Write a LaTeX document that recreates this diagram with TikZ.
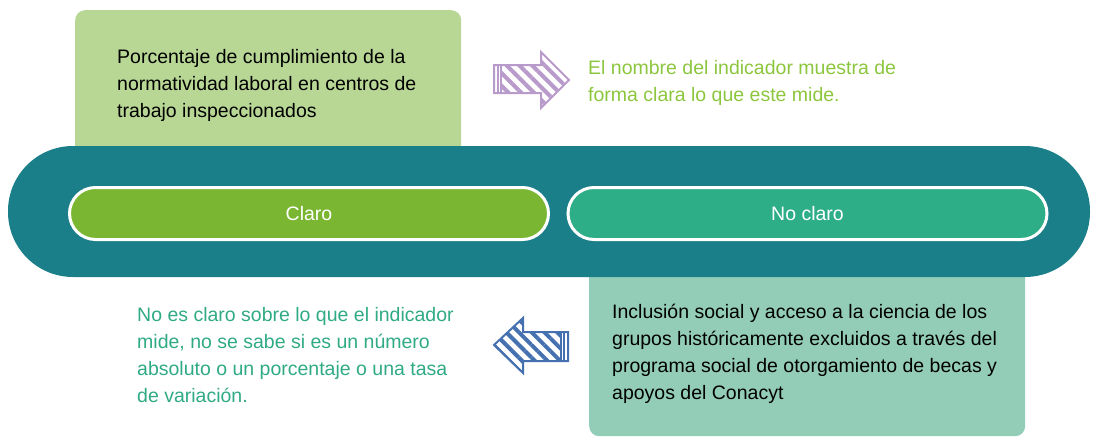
\documentclass[tikz,border=0pt]{standalone}
\usepackage{fontspec}
\setmainfont{Liberation Sans}
\usepackage{xcolor}
\usetikzlibrary{patterns.meta}
\definecolor{lightgreen}{HTML}{B8D794}
\definecolor{lightteal}{HTML}{93CDB8}
\definecolor{band}{HTML}{1B7F8A}
\definecolor{darkgreen}{HTML}{7AB631}
\definecolor{midteal}{HTML}{2EAE87}
\definecolor{limetext}{HTML}{8CC63E}
\definecolor{tealtext}{HTML}{2FAA84}
\definecolor{arrowpurple}{HTML}{B99BCB}
\definecolor{arrowblue}{HTML}{4571B0}
\tikzset{
box/.style={rounded corners=10pt,anchor=north west,inner sep=0pt},
pill/.style={draw=white,line width=3pt,rounded corners=26pt,minimum width=479pt,minimum height=52pt,text=white,font=\fontsize{19.5}{27}\selectfont},
txt/.style={font=\fontsize{19.5}{27}\selectfont,align=left,anchor=base west,inner sep=0pt},
hatch/.style={pattern={Lines[angle=-45,distance=9pt,line width=4pt]}}
}
\begin{document}
\begin{tikzpicture}[x=1pt,y=-1pt]
\useasboundingbox (0,0) rectangle (1093,437);
\node[box,fill=lightgreen,minimum width=386pt,minimum height=150pt] at (75,10) (1){};
\node[box,fill=lightteal,minimum width=436pt,minimum height=171pt] at (589,265) (2){};
\node[fill=band,rounded corners=65pt,minimum width=1082pt,minimum height=131pt] at (549,211.5) (3){};
\node[pill,fill=darkgreen] at (309,213.5) (4){Claro};
\node[pill,fill=midteal] at (807.5,213.5) (5){No claro};
\node[txt] at (117,117) (t1){Porcentaje de cumplimiento de la\\normatividad laboral en centros de\\trabajo inspeccionados};
\node[txt,text=limetext] at (588,101) (t2){El nombre del indicador muestra de\\forma clara lo que este mide.};
\node[txt,text=tealtext] at (137,402) (t3){No es claro sobre lo que el indicador\\mide, no se sabe si es un número\\absoluto o un porcentaje o una tasa\\de variación.};
\node[txt] at (612,399) (t4){Inclusión social y acceso a la ciencia de los\\grupos históricamente excluidos a través del\\programa social de otorgamiento de becas y\\apoyos del Conacyt};
\fill[white] (494,65) -- (541,65) -- (541,52) -- (569,80) -- (541,108) -- (541,93) -- (494,93) -- cycle;
\fill[hatch,pattern color=arrowpurple] (494,65) -- (541,65) -- (541,52) -- (569,80) -- (541,108) -- (541,93) -- (494,93) -- cycle;
\fill[white] (495,66) rectangle (502,92);
\foreach \x in {498,501}{
\draw[arrowpurple,line width=1.2pt] (\x,65) -- (\x,93);
}
\draw[arrowpurple,line width=2pt,line join=miter] (494,65) -- (541,65) -- (541,52) -- (569,80) -- (541,108) -- (541,93) -- (494,93) -- cycle;
\fill[hatch,pattern color=arrowblue] (568,332) -- (523,332) -- (523,318) -- (494,345) -- (523,373) -- (523,361) -- (568,361) -- cycle;
\fill[white] (560,333) rectangle (567,360);
\foreach \x in {561,564}{
\draw[arrowblue,line width=1.2pt] (\x,332) -- (\x,361);
}
\draw[arrowblue,line width=2pt,line join=miter] (568,332) -- (523,332) -- (523,318) -- (494,345) -- (523,373) -- (523,361) -- (568,361) -- cycle;
\end{tikzpicture}
\end{document}
